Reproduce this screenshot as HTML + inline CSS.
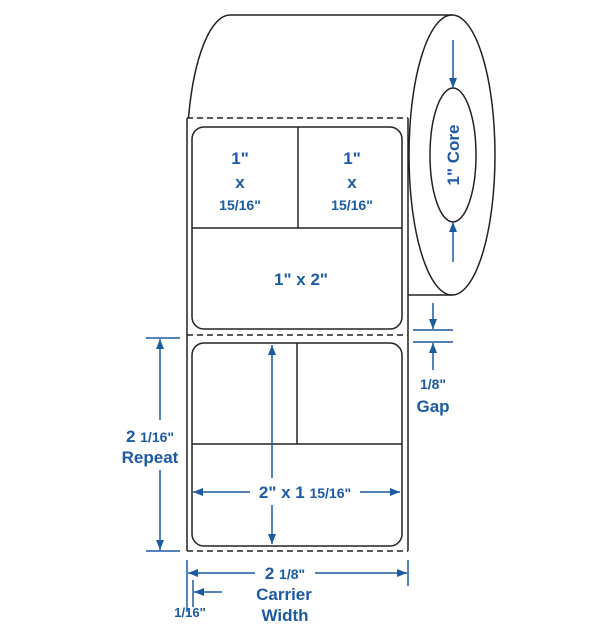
<!DOCTYPE html>
<html><head><style>
html,body{margin:0;padding:0;background:#fff;}
svg{display:block;}
text{font-family:"Liberation Sans",Arial,sans-serif;font-weight:bold;fill:#1c5aa3;text-anchor:middle;}
</style></head><body>
<svg width="614" height="637" viewBox="0 0 614 637" xmlns="http://www.w3.org/2000/svg">
<defs>
<marker id="a" viewBox="0 0 10 10" refX="10" refY="5" markerWidth="10" markerHeight="10" markerUnits="userSpaceOnUse" orient="auto">
<path d="M0,1 L10,5 L0,9 z" fill="#1c5aa3"/></marker>
</defs>
<g fill="none" stroke="#222" stroke-width="1.5">
<path d="M188.5,118 A43,140 0 0 1 230,15 L452,15"/>
<ellipse cx="452" cy="155" rx="43" ry="140"/>
<ellipse cx="453" cy="155" rx="23" ry="67"/>
<line x1="408" y1="295" x2="452" y2="295"/>
<line x1="187" y1="118" x2="187" y2="551"/>
<line x1="408" y1="118" x2="408" y2="551"/>
<g stroke-dasharray="6,4">
<line x1="187" y1="118" x2="408" y2="118"/>
<line x1="187" y1="335" x2="408" y2="335"/>
<line x1="187" y1="551" x2="408" y2="551"/>
</g>
<rect x="192" y="127" width="210" height="202" rx="12"/>
<line x1="298" y1="127" x2="298" y2="228"/>
<line x1="192" y1="228" x2="402" y2="228"/>
<rect x="192" y="343" width="210" height="203" rx="12"/>
<line x1="297" y1="343" x2="297" y2="444"/>
<line x1="192" y1="444" x2="402" y2="444"/>
</g>
<g stroke="#1c5aa3" stroke-width="1.5" fill="none">
<line x1="453" y1="40" x2="453" y2="88" marker-end="url(#a)"/>
<line x1="453" y1="262" x2="453" y2="222" marker-end="url(#a)"/>
<line x1="413" y1="330" x2="453" y2="330"/>
<line x1="413" y1="342" x2="453" y2="342"/>
<line x1="433" y1="303" x2="433" y2="329" marker-end="url(#a)"/>
<line x1="433" y1="370" x2="433" y2="343" marker-end="url(#a)"/>
<line x1="146" y1="338" x2="180" y2="338"/>
<line x1="146" y1="551" x2="180" y2="551"/>
<line x1="160" y1="420" x2="160" y2="339" marker-end="url(#a)"/>
<line x1="160" y1="470" x2="160" y2="550" marker-end="url(#a)"/>
<line x1="272" y1="478" x2="272" y2="345" marker-end="url(#a)"/>
<line x1="272" y1="505" x2="272" y2="544" marker-end="url(#a)"/>
<line x1="250" y1="492" x2="193" y2="492" marker-end="url(#a)"/>
<line x1="360" y1="492" x2="400" y2="492" marker-end="url(#a)"/>
<line x1="187" y1="560" x2="187" y2="612"/>
<line x1="193" y1="580" x2="193" y2="607"/>
<line x1="408" y1="560" x2="408" y2="586"/>
<line x1="255" y1="573" x2="188" y2="573" marker-end="url(#a)"/>
<line x1="315" y1="573" x2="407" y2="573" marker-end="url(#a)"/>
<line x1="222" y1="592" x2="194" y2="592" marker-end="url(#a)"/>
</g>
<g font-size="17">
<text x="240" y="164">1"</text>
<text x="240" y="188">x</text>
<text x="240" y="210" font-size="14">15/16"</text>
<text x="352" y="164">1"</text>
<text x="352" y="188">x</text>
<text x="352" y="210" font-size="14">15/16"</text>
<text x="301" y="285">1" x 2"</text>
<text x="453" y="155" transform="rotate(-90 453 155)" dy="6">1" Core</text>
<text x="433" y="389" font-size="14">1/8"</text>
<text x="433" y="412">Gap</text>
<text x="150" y="442">2 <tspan font-size="14">1/16"</tspan></text>
<text x="150" y="463">Repeat</text>
<text x="305" y="498">2" x 1 <tspan font-size="14">15/16"</tspan></text>
<text x="285" y="579">2 <tspan font-size="14">1/8"</tspan></text>
<text x="284" y="600">Carrier</text>
<text x="285" y="621">Width</text>
<text x="190" y="617" font-size="13">1/16"</text>
</g>
</svg>
</body></html>
